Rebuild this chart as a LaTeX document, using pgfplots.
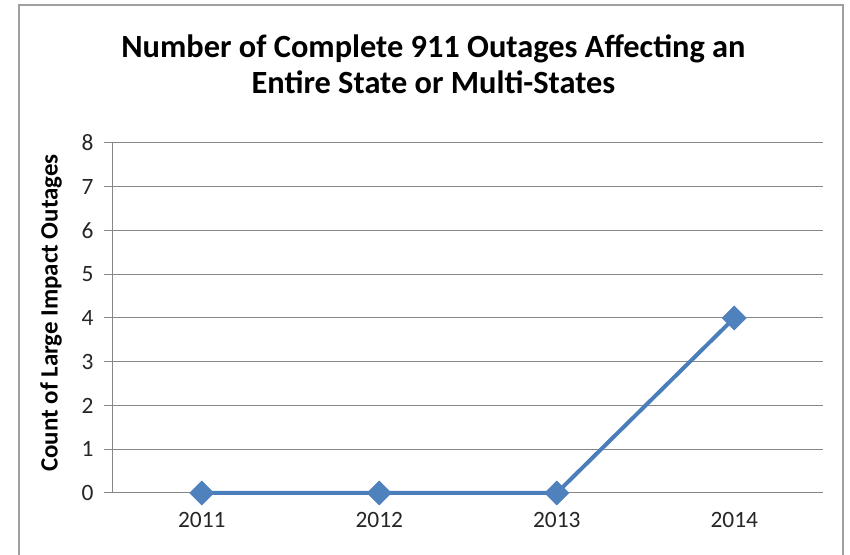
\documentclass[border=0pt]{standalone}
\usepackage{pgfplots}
\pgfplotsset{compat=1.18}
\usepackage{fontspec}
\setmainfont{Carlito}
\definecolor{serline}{HTML}{4A7EBB}
\definecolor{serfill}{HTML}{4F81BD}
\definecolor{gridc}{HTML}{868686}
\definecolor{framec}{HTML}{A0A0A0}
\begin{document}
\begin{tikzpicture}[x=1bp,y=1bp]
\useasboundingbox (-113,-62) rectangle (737,493);
\fill[white] (-113,-62) rectangle (737,493);
\draw[framec, line width=1.5bp] (-94,-70) -- (-94,488) -- (730,488) -- (730,-70);
\node[anchor=base, font=\fontsize{32.5}{38}\selectfont\bfseries] at (320.5,435) {Number of Complete 911 Outages Affecting an};
\node[anchor=base, font=\fontsize{32.5}{38}\selectfont\bfseries] at (320.5,399) {Entire State or Multi-States};
\node[rotate=90, font=\fontsize{25}{28}\selectfont\bfseries] at (-62,180) {Count of Large Impact Outages};
\begin{axis}[
  at={(0,0)}, anchor=south west,
  scale only axis, width=710bp, height=350bp,
  xmin=-0.5, xmax=3.5, ymin=0, ymax=8,
  axis x line*=bottom, axis y line*=left,
  axis line style={gridc, line width=1bp},
  ytick={0,1,...,8},
  xtick={0,1,2,3},
  xticklabels={2011,2012,2013,2014},
  ymajorgrids, grid style={gridc, line width=1bp},
  tick align=outside,
  major tick length=9bp,
  tick style={gridc, line width=1bp},
  x tick style={draw=none},
  extra x ticks={-0.5,0.5,1.5,2.5,3.5},
  extra x tick labels={},
  extra x tick style={grid=none, tick style={draw=gridc, line width=1bp}, major tick length=8bp},
  ticklabel style={font=\fontsize{23.5}{26}\selectfont, text=black!85},
  yticklabel style={xshift=-7bp},
  xticklabel style={yshift=-7bp},
  /pgf/number format/assume math mode=true,
  clip=false,
]
\addplot[serline, line width=4bp, mark=square*, mark size=8.5bp, mark options={rotate=45, fill=serfill, draw=serfill, line width=0.5bp}]
  coordinates {(0,0) (1,0) (2,0) (3,4)};
\end{axis}
\end{tikzpicture}
\end{document}
